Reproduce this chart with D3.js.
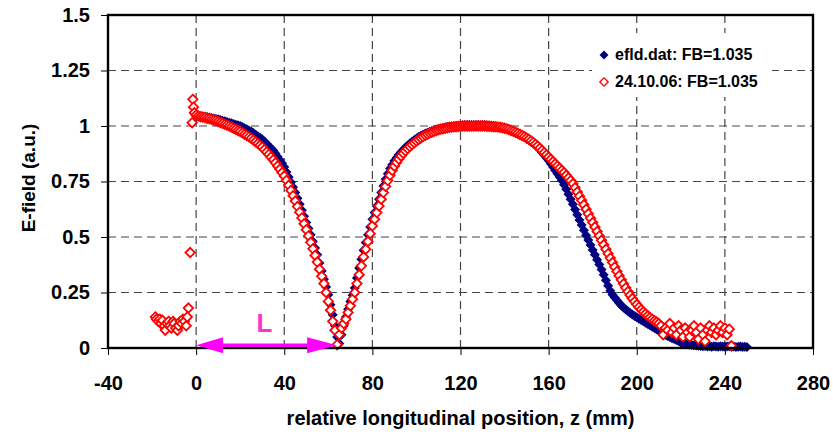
<!DOCTYPE html>
<html>
<head>
<meta charset="utf-8">
<script src="https://cdn.jsdelivr.net/npm/d3@7"></script>
<style>
  body { margin: 0; background: #fff; }
  text { font-family: "Liberation Sans", Arial, sans-serif; font-weight: bold; }
</style>
</head>
<body>
<script>
// tick values / labels
var xTicks = [-40, 0, 40, 80, 120, 160, 200, 240, 280];
var yTicks = [0, 0.25, 0.5, 0.75, 1, 1.25, 1.5];
var yTickLabels = ["0", "0.25", "0.5", "0.75", "1", "1.25", "1.5"];

var seriesNames = ["efld.dat: FB=1.035", "24.10.06: FB=1.035"];

// efld.dat : sampled every 1 mm starting at z = 0
var blueZ0 = 0, blueStep = 1;
var blueE = [
  1.045, 1.045, 1.044, 1.043, 1.042, 1.040, 1.038, 1.036, 1.034, 1.032,
  1.030, 1.027, 1.024, 1.021, 1.018, 1.015, 1.012, 1.009, 1.006, 1.003,
  1.000, 0.995, 0.990, 0.985, 0.980, 0.975, 0.968, 0.961, 0.954, 0.947,
  0.940, 0.930, 0.920, 0.910, 0.900, 0.890, 0.876, 0.862, 0.847, 0.832,
  0.815, 0.793, 0.770, 0.747, 0.724, 0.700, 0.674, 0.647, 0.620, 0.593,
  0.565, 0.538, 0.510, 0.480, 0.450, 0.420, 0.383, 0.347, 0.310, 0.275,
  0.240, 0.195, 0.150, 0.100, 0.050, 0.020, 0.060, 0.100, 0.140, 0.175,
  0.210, 0.238, 0.270, 0.315, 0.360, 0.400, 0.440, 0.475, 0.510, 0.545,
  0.580, 0.610, 0.640, 0.670, 0.700, 0.730, 0.760, 0.785, 0.808, 0.826,
  0.843, 0.857, 0.870, 0.882, 0.893, 0.903, 0.912, 0.921, 0.929, 0.937,
  0.944, 0.950, 0.956, 0.961, 0.966, 0.970, 0.974, 0.978, 0.981, 0.984,
  0.987, 0.989, 0.991, 0.993, 0.995, 0.997, 0.998, 0.999, 1.000, 1.001,
  1.002, 1.003, 1.004, 1.004, 1.005, 1.005, 1.005, 1.005, 1.005, 1.005,
  1.005, 1.004, 1.003, 1.002, 1.001, 1.000, 0.998, 0.996, 0.994, 0.992,
  0.989, 0.986, 0.982, 0.978, 0.974, 0.970, 0.965, 0.960, 0.955, 0.950,
  0.944, 0.937, 0.929, 0.921, 0.913, 0.905, 0.893, 0.881, 0.869, 0.857,
  0.845, 0.830, 0.815, 0.800, 0.785, 0.770, 0.755, 0.735, 0.715, 0.693,
  0.670, 0.647, 0.624, 0.600, 0.577, 0.554, 0.530, 0.508, 0.486, 0.464,
  0.442, 0.420, 0.398, 0.376, 0.354, 0.330, 0.305, 0.280, 0.258, 0.240,
  0.228, 0.215, 0.203, 0.192, 0.182, 0.173, 0.165, 0.158, 0.151, 0.144,
  0.138, 0.132, 0.126, 0.120, 0.114, 0.108, 0.102, 0.096, 0.090, 0.084,
  0.078, 0.072, 0.066, 0.060, 0.054, 0.049, 0.044, 0.040, 0.036, 0.032,
  0.025, 0.022, 0.019, 0.017, 0.015, 0.013, 0.012, 0.011, 0.010, 0.009,
  0.008, 0.009, 0.007, 0.008, 0.006, 0.008, 0.007, 0.006, 0.008, 0.007,
  0.006, 0.007, 0.008, 0.006, 0.007, 0.005, 0.006, 0.007, 0.005, 0.006,
  0.005
];

// 24.10.06 : sampled every 1 mm starting at z = 0
var redZ0 = 0, redStep = 1;
var redE = [
  1.050, 1.045, 1.042, 1.040, 1.038, 1.035, 1.033, 1.030, 1.027, 1.024,
  1.020, 1.016, 1.012, 1.008, 1.004, 1.000, 0.995, 0.990, 0.985, 0.980,
  0.975, 0.969, 0.963, 0.957, 0.951, 0.945, 0.937, 0.929, 0.921, 0.913,
  0.905, 0.894, 0.883, 0.872, 0.860, 0.848, 0.834, 0.820, 0.805, 0.790,
  0.775, 0.755, 0.733, 0.710, 0.686, 0.662, 0.637, 0.612, 0.586, 0.560,
  0.533, 0.505, 0.476, 0.447, 0.417, 0.387, 0.355, 0.323, 0.290, 0.250,
  0.210, 0.170, 0.120, 0.080, 0.015, 0.060, 0.090, 0.110, 0.130, 0.160,
  0.190, 0.220, 0.250, 0.290, 0.330, 0.370, 0.410, 0.445, 0.480, 0.515,
  0.550, 0.580, 0.610, 0.640, 0.670, 0.700, 0.728, 0.754, 0.778, 0.800,
  0.819, 0.836, 0.851, 0.865, 0.877, 0.888, 0.898, 0.907, 0.916, 0.924,
  0.932, 0.939, 0.946, 0.952, 0.958, 0.963, 0.968, 0.972, 0.976, 0.980,
  0.983, 0.986, 0.988, 0.990, 0.992, 0.994, 0.995, 0.996, 0.997, 0.998,
  0.999, 1.000, 1.000, 1.000, 1.000, 1.000, 1.000, 1.000, 1.000, 1.000,
  1.000, 1.000, 0.999, 0.999, 0.998, 0.997, 0.996, 0.995, 0.994, 0.992,
  0.990, 0.987, 0.984, 0.980, 0.976, 0.972, 0.967, 0.962, 0.957, 0.952,
  0.946, 0.940, 0.933, 0.926, 0.918, 0.910, 0.900, 0.890, 0.880, 0.870,
  0.860, 0.850, 0.840, 0.830, 0.820, 0.810, 0.800, 0.790, 0.778, 0.766,
  0.754, 0.740, 0.722, 0.703, 0.684, 0.665, 0.645, 0.625, 0.605, 0.585,
  0.565, 0.545, 0.525, 0.505, 0.485, 0.465, 0.445, 0.425, 0.405, 0.385,
  0.365, 0.345, 0.326, 0.307, 0.289, 0.271, 0.254, 0.238, 0.223, 0.209,
  0.196, 0.184, 0.173, 0.163, 0.154, 0.145, 0.137, 0.130, 0.123, 0.117,
  0.110, 0.100, 0.060, 0.090, 0.080, 0.110, 0.070, 0.090, 0.060, 0.100,
  0.080, 0.050, 0.090, 0.070, 0.050, 0.080, 0.100, 0.070, 0.040, 0.090,
  0.060, 0.030, 0.080, 0.100, 0.070, 0.090, 0.060, 0.080, 0.100, 0.070,
  0.090, 0.060, 0.085, 0.010
];

// 24.10.06 : points measured before z = 0
var redPreZ = [-18.5, -18, -17.2, -16.5, -16, -15.3, -14.5, -14, -13.3, -12.5, -12, -11.2, -10.5, -10,
  -9.3, -8.5, -8, -7.2, -6.5, -6, -5.3, -4.5, -4, -3.5, -2.7, -1.8, -1.5, -1.2, -0.8];
var redPreE = [0.14, 0.13, 0.12, 0.13, 0.11, 0.125, 0.10, 0.08, 0.11, 0.12, 0.10, 0.09, 0.12, 0.11,
  0.09, 0.08, 0.10, 0.12, 0.11, 0.13, 0.12, 0.10, 0.14, 0.18, 0.43, 1.015, 1.12, 1.085, 1.06];

// "L" annotation (cavity length), in data units
var arrowZ = [0, 64];
var arrowE = 0.012;
var labelL = {z: 31, e: 0.07, text: "L"};

var W = 833, H = 435;
var margin = {top: 15, right: 20, bottom: 87, left: 108};

var svg = d3.select("body").append("svg")
    .attr("width", W)
    .attr("height", H);

var x = d3.scaleLinear().domain([-40, 280]).range([margin.left, W - margin.right]);
var y = d3.scaleLinear().domain([0, 1.5]).range([H - margin.bottom, margin.top]);

// grid
var grid = svg.append("g").attr("stroke", "#444").attr("stroke-width", 1.2)
    .attr("stroke-dasharray", "8,5");
grid.selectAll("line.v").data(xTicks.slice(1, -1)).enter().append("line")
    .attr("x1", d => x(d)).attr("x2", d => x(d))
    .attr("y1", y(1.5)).attr("y2", y(0));
grid.selectAll("line.h").data(yTicks.slice(1, -1)).enter().append("line")
    .attr("x1", x(-40)).attr("x2", x(280))
    .attr("y1", d => y(d)).attr("y2", d => y(d));

// diamond marker
var diamond = {
  draw: function(ctx, size) {
    var r = Math.sqrt(size / 2);
    ctx.moveTo(0, -r); ctx.lineTo(r, 0); ctx.lineTo(0, r); ctx.lineTo(-r, 0); ctx.closePath();
  }
};
var filledSym = d3.symbol().type(diamond).size(50)();
var openSym = d3.symbol().type(diamond).size(44)();

var blue = blueE.map((e, i) => ({z: blueZ0 + i * blueStep, e: e}));
var red = redPreZ.map((z, i) => ({z: z, e: redPreE[i]}))
    .concat(redE.map((e, i) => ({z: redZ0 + i * redStep, e: e})));

svg.append("g").selectAll("path").data(blue).enter().append("path")
    .attr("d", filledSym)
    .attr("transform", d => "translate(" + x(d.z) + "," + y(d.e) + ")")
    .attr("fill", "#000080");

svg.append("g").selectAll("path").data(red).enter().append("path")
    .attr("d", openSym)
    .attr("transform", d => "translate(" + x(d.z) + "," + y(d.e) + ")")
    .attr("fill", "#fff")
    .attr("stroke", "#ff0000")
    .attr("stroke-width", 1.8);

// axes
var yAxis = d3.axisLeft(y).tickValues(yTicks).tickSize(7).tickPadding(11)
    .tickFormat((d, i) => yTickLabels[i]);
var xAxis = d3.axisBottom(x).tickValues(xTicks).tickSize(7).tickPadding(21)
    .tickFormat(d => String(d));

var gy = svg.append("g").attr("transform", "translate(" + margin.left + ",0)").call(yAxis);
var gx = svg.append("g").attr("transform", "translate(0," + y(0) + ")").call(xAxis);
[gx, gy].forEach(function(g) {
  g.select(".domain").remove();
  g.selectAll(".tick line").attr("stroke", "#000");
  g.selectAll(".tick text").attr("fill", "#000").style("font-size", "20px");
});

// frame
svg.append("rect")
    .attr("x", x(-40)).attr("y", y(1.5))
    .attr("width", x(280) - x(-40)).attr("height", y(0) - y(1.5))
    .attr("fill", "none").attr("stroke", "#000").attr("stroke-width", 2.4);

// L arrow
var ax0 = x(arrowZ[0]), ax1 = x(arrowZ[1]), ay = y(arrowE);
svg.append("line")
    .attr("x1", ax0 + 20).attr("x2", ax1 - 20)
    .attr("y1", ay).attr("y2", ay)
    .attr("stroke", "#ff00ff").attr("stroke-width", 3.5);
svg.append("path")
    .attr("d", "M" + ax0 + "," + ay + "L" + (ax0 + 27) + "," + (ay - 8) + "L" + (ax0 + 27) + "," + (ay + 8) + "Z")
    .attr("fill", "#ff00ff");
svg.append("path")
    .attr("d", "M" + ax1 + "," + ay + "L" + (ax1 - 30) + "," + (ay - 8) + "L" + (ax1 - 30) + "," + (ay + 8) + "Z")
    .attr("fill", "#ff00ff");
svg.append("text")
    .attr("x", x(labelL.z)).attr("y", y(labelL.e))
    .attr("text-anchor", "middle")
    .attr("fill", "#ff33cc")
    .style("font-size", "26px")
    .text(labelL.text);

// legend
svg.append("rect").attr("x", 592).attr("y", 33).attr("width", 180).attr("height", 64).attr("fill", "#fff");
var leg = svg.append("g");
leg.append("path").attr("d", d3.symbol().type(diamond).size(40)())
    .attr("transform", "translate(604,55)").attr("fill", "#000080");
leg.append("path").attr("d", d3.symbol().type(diamond).size(34)())
    .attr("transform", "translate(604,82)").attr("fill", "#fff")
    .attr("stroke", "#ff0000").attr("stroke-width", 1.4);
leg.selectAll("text").data(seriesNames).enter().append("text")
    .attr("x", 615).attr("y", (d, i) => 60 + i * 27)
    .style("font-size", "16px")
    .attr("fill", "#000")
    .text(d => d);

// axis titles
svg.append("text")
    .attr("x", (x(-40) + x(280)) / 2).attr("y", 425)
    .attr("text-anchor", "middle")
    .style("font-size", "20px")
    .text("relative longitudinal position, z (mm)");
svg.append("text")
    .attr("transform", "translate(35,178) rotate(-90)")
    .attr("text-anchor", "middle")
    .style("font-size", "19px")
    .text("E-field (a.u.)");
</script>
</body>
</html>
